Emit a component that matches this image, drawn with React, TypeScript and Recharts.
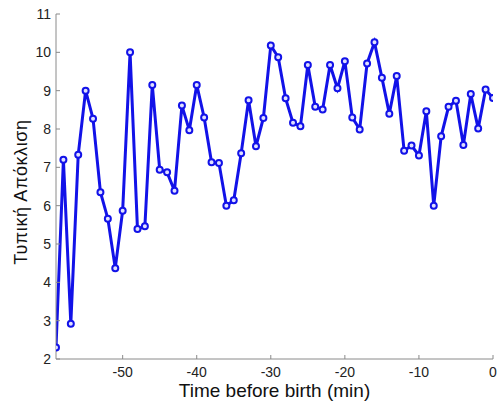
import React from 'react';
import {LineChart, Line, XAxis, YAxis, Label} from 'recharts';

const minutes = [
    -59, -58, -57, -56, -55, -54, -53, -52, -51, -50,
    -49, -48, -47, -46, -45, -44, -43, -42, -41, -40,
    -39, -38, -37, -36, -35, -34, -33, -32, -31, -30,
    -29, -28, -27, -26, -25, -24, -23, -22, -21, -20,
    -19, -18, -17, -16, -15, -14, -13, -12, -11, -10,
    -9, -8, -7, -6, -5, -4, -3, -2, -1, 0,
];

const stdDev = [
    2.3, 7.2, 2.92, 7.33, 9.0, 8.27, 6.35, 5.66, 4.37, 5.87,
    10.0, 5.39, 5.46, 9.15, 6.94, 6.87, 6.39, 8.61, 7.97, 9.15,
    8.3, 7.13, 7.11, 6.0, 6.14, 7.37, 8.75, 7.55, 8.29, 10.18,
    9.87, 8.8, 8.16, 8.07, 9.67, 8.58, 8.51, 9.67, 9.06, 9.77,
    8.3, 7.99, 9.71, 10.26, 9.34, 8.4, 9.38, 7.43, 7.57, 7.31,
    8.46, 6.0, 7.81, 8.58, 8.74, 7.58, 8.91, 8.01, 9.03, 8.81,
];

const xTicks = [-50, -40, -30, -20, -10, 0];
const yTicks = [2, 3, 4, 5, 6, 7, 8, 9, 10, 11];

const data = minutes.map((t, i) => ({t: t, sd: stdDev[i]}));

const font = '"Liberation Sans", Arial, sans-serif';
const blue = '#1212e8';

const App = () => {
    return (
        <div style={{position: 'absolute', left: 0, top: 0}}>
            <LineChart width={499} height={405} data={data}
                       margin={{top: 14, right: 6, bottom: 0, left: 0}}
                       style={{fontFamily: font}}
            >
                <XAxis dataKey="t" type="number" domain={[-59, 0]} ticks={xTicks}
                       allowDataOverflow height={46}
                       stroke="#8a8a8a" tickSize={-4} tickMargin={12}
                       tick={{fill: '#222', fontSize: 14}}
                >
                    <Label value="Time before birth (min)" position="insideBottom" offset={8}
                           style={{fill: '#111', fontSize: 19, fontFamily: font}}/>
                </XAxis>
                <YAxis type="number" domain={[2, 11]} ticks={yTicks} width={56}
                       stroke="#8a8a8a" tickSize={-4} tickMargin={9}
                       tick={{fill: '#222', fontSize: 14}}
                >
                    {/* rotated y label, placed as in the picture */}
                    <Label content={() => (
                        <text x={20.5} y={192} transform="rotate(-90 20.5 192)" textAnchor="middle"
                              dominantBaseline="central" fill="#111" fontSize={18}
                              letterSpacing={0.6} fontFamily={font}>
                            Τυπική Απόκλιση
                        </text>
                    )}/>
                </YAxis>
                <Line dataKey="sd" stroke={blue} strokeWidth={3} isAnimationActive={false}
                      dot={{r: 3, stroke: blue, strokeWidth: 2, fill: '#e0e0ff'}}/>
            </LineChart>
        </div>
    );
};

export default App;
